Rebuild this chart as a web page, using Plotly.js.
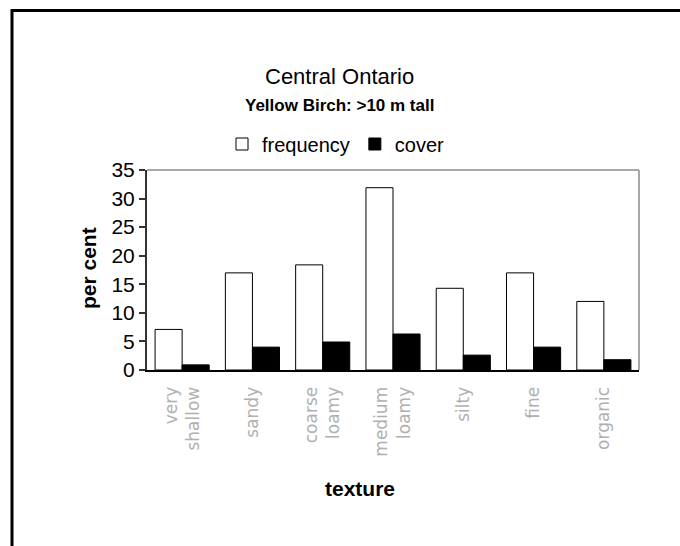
<!DOCTYPE html>
<html>
<head>
<meta charset="utf-8">
<script src="https://cdn.plot.ly/plotly-3.0.1.min.js"></script>
<style>html,body{margin:0;padding:0;background:#fff;}#chart{width:680px;height:546px;}</style>
</head>
<body>
<div id="chart"></div>
<script>
var categories = ["very<br>shallow", "sandy", "coarse<br>loamy", "medium<br>loamy", "silty", "fine", "organic"];
var frequency = [7.1, 17.0, 18.4, 31.9, 14.3, 17.0, 12.0];
var cover = [0.9, 4.0, 4.9, 6.3, 2.6, 4.0, 1.8];
var yTicks = [0, 5, 10, 15, 20, 25, 30, 35];

var L = 147, R = 639, T = 170, B = 370, W = 680, H = 546;
function px(x) { return (x - L) / (R - L); }
function py(y) { return (B - y) / (B - T); }

var traces = [
  {type: 'bar', name: 'frequency', x: categories, y: frequency,
   marker: {color: '#ffffff', line: {color: '#000000', width: 1}}},
  {type: 'bar', name: 'cover', x: categories, y: cover,
   marker: {color: '#000000', line: {color: '#000000', width: 1}}}
];

var font = 'Liberation Sans, Arial, sans-serif';
var layout = {
  width: W, height: H,
  margin: {l: L, r: W - R, t: T, b: H - B, pad: 0},
  paper_bgcolor: '#ffffff', plot_bgcolor: '#ffffff',
  font: {family: font, color: '#000000'},
  barmode: 'group', bargap: 0.23, bargroupgap: 0,
  showlegend: true,
  legend: {orientation: 'h', x: px(222), y: py(144), xanchor: 'left', yanchor: 'middle',
           font: {size: 20, family: font}, bgcolor: 'rgba(0,0,0,0)', itemwidth: 30, traceorder: 'normal'},
  xaxis: {type: 'category', showline: true, linecolor: '#000000', linewidth: 2,
          ticks: '', tickangle: -90, showgrid: false, zeroline: false, ticklabelstandoff: 8,
          tickfont: {size: 17, color: '#b0b0b0', family: 'DejaVu Sans, sans-serif'}},
  yaxis: {range: [0, 35], tickvals: yTicks, ticktext: yTicks.map(String), showline: true,
          linecolor: '#333333', linewidth: 2, ticks: 'outside', ticklen: 6, tickwidth: 2,
          tickcolor: '#333333', showgrid: false, zeroline: false,
          tickfont: {size: 21, family: font, color: '#000000'}},
  annotations: [
    {text: 'Central Ontario', xref: 'paper', yref: 'paper', x: px(339), y: py(76),
     xanchor: 'center', yanchor: 'middle', showarrow: false, font: {size: 22, family: font}},
    {text: '<b>Yellow Birch: >10 m tall</b>', xref: 'paper', yref: 'paper', x: px(339), y: py(105),
     xanchor: 'center', yanchor: 'middle', showarrow: false, font: {size: 17, family: font}},
    {text: '<b>per cent</b>', xref: 'paper', yref: 'paper', x: px(88), y: py(268),
     xanchor: 'center', yanchor: 'middle', textangle: -90, showarrow: false, font: {size: 21, family: font}},
    {text: '<b>texture</b>', xref: 'paper', yref: 'paper', x: px(360), y: py(488),
     xanchor: 'center', yanchor: 'middle', showarrow: false, font: {size: 21, family: font}}
  ],
  shapes: [
    {type: 'line', xref: 'paper', yref: 'paper', x0: 0, x1: 1, y0: 1, y1: 1, line: {color: '#a8a8a8', width: 2}},
    {type: 'line', xref: 'paper', yref: 'paper', x0: 1, x1: 1, y0: 0, y1: 1, line: {color: '#a8a8a8', width: 2}},
    {type: 'rect', xref: 'paper', yref: 'paper', x0: px(12), x1: px(700), y0: py(10.5), y1: py(600),
     line: {color: '#000000', width: 3}, layer: 'above'}
  ]
};

Plotly.newPlot('chart', traces, layout, {displayModeBar: false, staticPlot: true});
</script>
</body>
</html>
